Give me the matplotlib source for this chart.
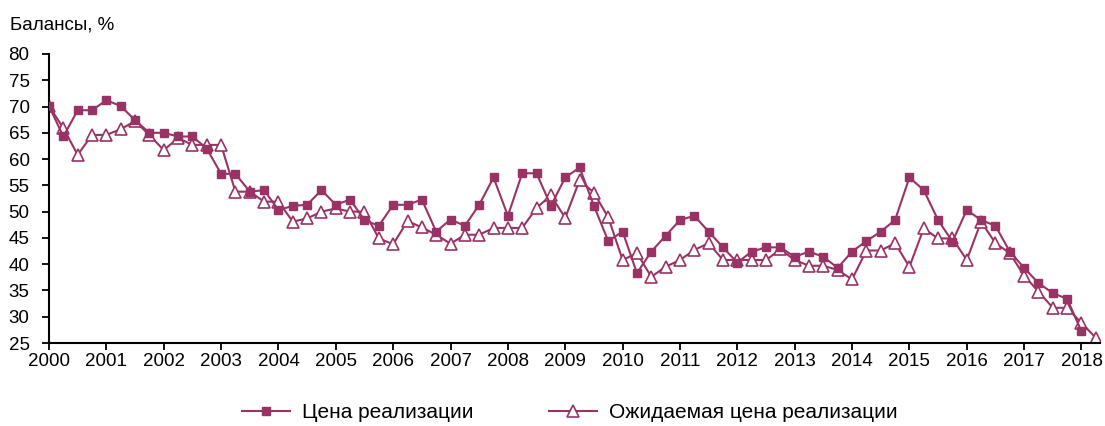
import numpy as np
import pandas as pd
import matplotlib
matplotlib.use("Agg")
import matplotlib.pyplot as plt

plt.rcParams['font.family'] = ['Liberation Sans', 'DejaVu Sans']

# Цена реализации, 2000Q1 - 2018Q1
price = [70.1, 64.3, 69.3, 69.3, 71.2, 70.1, 67.4, 65.0,
         65.0, 64.3, 64.3, 62.0, 57.2, 57.2, 53.8, 54.1,
         50.3, 51.1, 51.3, 54.1, 51.3, 52.3, 48.4, 47.3,
         51.3, 51.3, 52.3, 46.2, 48.5, 47.3, 51.3, 56.5,
         49.2, 57.3, 57.3, 51.1, 56.5, 58.4, 51.1, 44.4,
         46.2, 38.3, 42.4, 45.4, 48.4, 49.2, 46.2, 43.2,
         40.3, 42.4, 43.2, 43.2, 41.4, 42.4, 41.4, 39.3,
         42.4, 44.4, 46.2, 48.4, 56.5, 54.1, 48.4, 44.3,
         50.3, 48.4, 47.3, 42.4, 39.3, 36.4, 34.5, 33.4,
         27.2]

# Ожидаемая цена реализации, 2000Q1 - 2018Q2
expected = [70.1, 65.9, 60.8, 64.6, 64.6, 65.7, 67.2, 64.6,
            61.7, 64.0, 62.7, 62.7, 62.7, 53.8, 53.8, 51.9,
            51.9, 48.1, 48.7, 50.0, 50.6, 50.0, 50.0, 44.9,
            43.8, 48.2, 47.0, 45.6, 43.9, 45.6, 45.6, 46.9,
            46.9, 46.9, 50.7, 53.1, 48.8, 56.0, 53.6, 48.9,
            40.8, 42.1, 37.6, 39.5, 40.8, 42.7, 44.0, 40.8,
            40.8, 40.8, 40.8, 42.8, 40.8, 39.7, 39.7, 38.9,
            37.1, 42.6, 42.6, 44.0, 39.5, 46.8, 44.9, 44.9,
            40.8, 48.1, 44.0, 42.1, 37.8, 34.8, 31.7, 31.7,
            28.8, 26.0]

years = list(range(2000, 2019))
yticks = list(range(25, 85, 5))

def to_x(periods):
    return periods.year + (periods.quarter - 1) / 4

x_price = to_x(pd.period_range('2000Q1', periods=len(price), freq='Q'))
x_exp = to_x(pd.period_range('2000Q1', periods=len(expected), freq='Q'))

col = '#993366'

fig = plt.figure(figsize=(11.05, 4.26), dpi=100)
ax = fig.add_axes([49/1105, 1 - 343/426, (1100-49)/1105, (343-54)/426])

ax.plot(x_price, price, color=col, lw=1.5, marker='s', ms=6,
        mfc=col, mec=col, label='Цена реализации', zorder=3)
ax.plot(x_exp, expected, color=col, lw=1.5, marker='^', ms=8.5,
        mfc='white', mec=col, mew=1.2, label='Ожидаемая цена реализации', zorder=2)

ax.set_xlim(2000, 2000 + (1100-49)/57.36)
ax.set_ylim(25, 80)
ax.set_xticks(years)
ax.set_xticklabels([str(y) for y in years])
ax.set_yticks(yticks)

for s in ['top', 'right']:
    ax.spines[s].set_visible(False)
for s in ['left', 'bottom']:
    ax.spines[s].set_linewidth(1.5)
    ax.spines[s].set_color('black')

ax.tick_params(axis='y', direction='out', length=5, width=1.3, labelsize=13.5, pad=9)
ax.tick_params(axis='x', direction='out', length=5, width=1.3, labelsize=13.5, pad=2)

fig.text(10/1105, 1 - 25/426, 'Балансы, %', fontsize=13.5, va='center', ha='left')

fig.legend(loc='center', bbox_to_anchor=(570/1105, 1 - 413/426), ncol=2,
           frameon=False, fontsize=15, handlelength=2.3, columnspacing=3.6, handletextpad=0.6)

fig.savefig('out.png', dpi=100)
